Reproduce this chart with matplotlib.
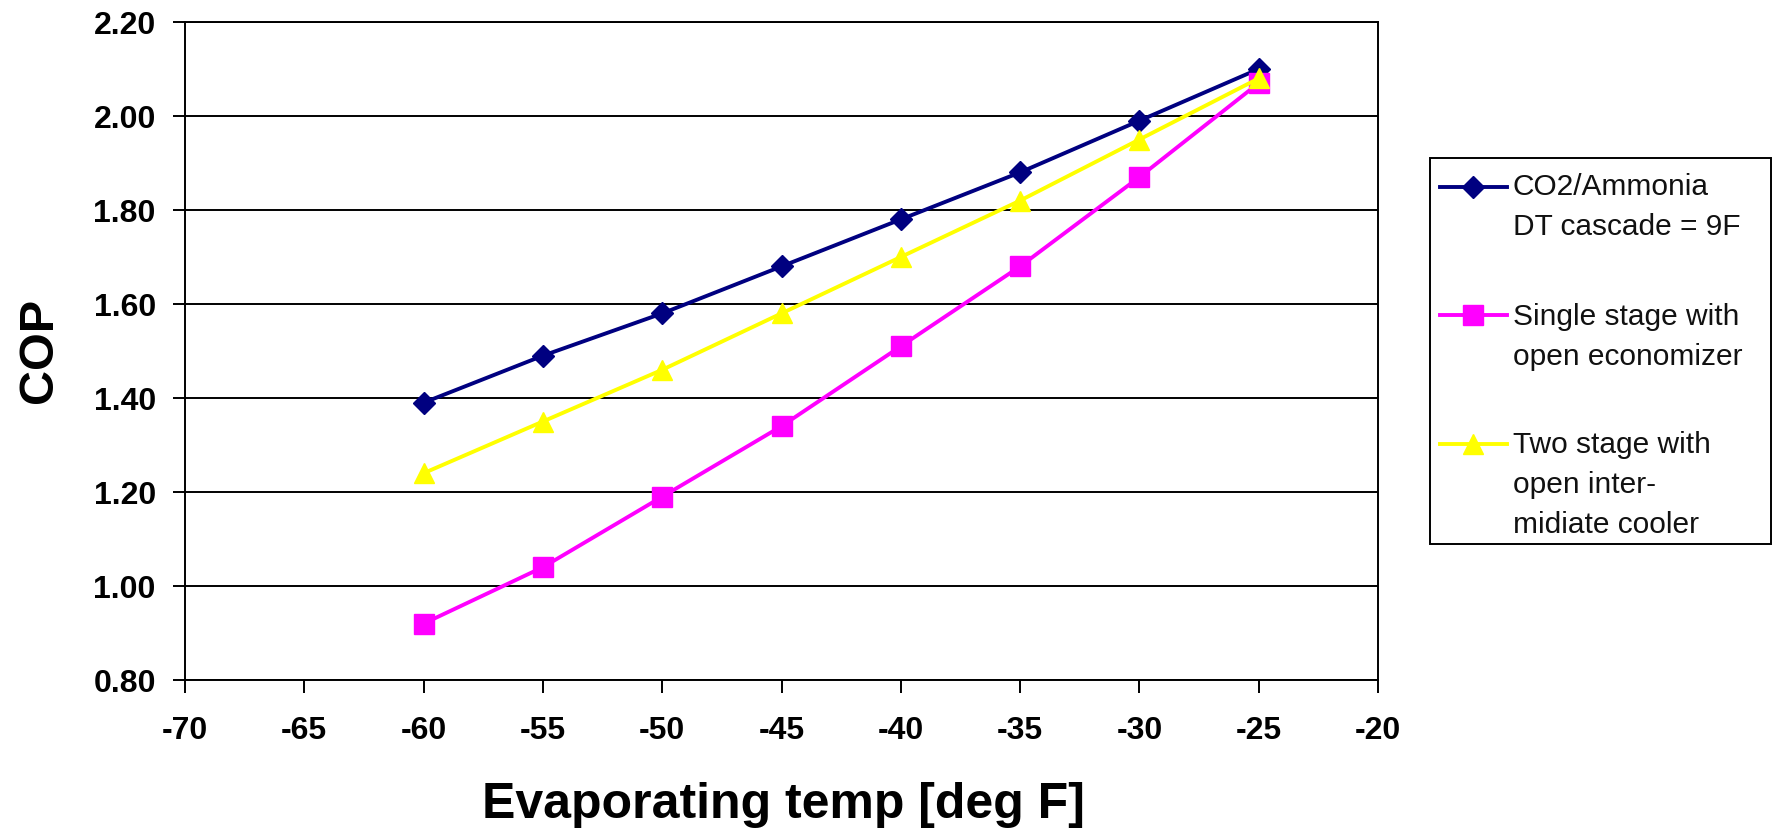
import matplotlib
matplotlib.use("Agg")
import matplotlib.pyplot as plt
from matplotlib.lines import Line2D
from matplotlib.patches import Rectangle

plt.rcParams['font.family'] = ['Liberation Sans', 'DejaVu Sans']

temps = [-60, -55, -50, -45, -40, -35, -30, -25]
cop_cascade = [1.39, 1.49, 1.58, 1.68, 1.78, 1.88, 1.99, 2.10]
cop_single = [0.92, 1.04, 1.19, 1.34, 1.51, 1.68, 1.87, 2.07]
cop_two = [1.24, 1.35, 1.46, 1.58, 1.70, 1.82, 1.95, 2.08]

labels = ["CO2/Ammonia\nDT cascade = 9F",
          "Single stage with\nopen economizer",
          "Two stage with\nopen inter-\nmidiate cooler"]
colors = ["#000080", "#FF00FF", "#FFFF00"]
markers = ["D", "s", "^"]
msizes = [11, 14, 15]

xticks = list(range(-70, -15, 5))
yticks = [0.80, 1.00, 1.20, 1.40, 1.60, 1.80, 2.00, 2.20]

W, H = 1773, 830
fig = plt.figure(figsize=(W / 100, H / 100), dpi=100)
ax = fig.add_axes([185 / W, 1 - 680 / H, (1378 - 185) / W, (680 - 22) / H])

series = [cop_cascade, cop_single, cop_two]
for ys, c, m, ms in zip(series, colors, markers, msizes):
    ax.plot(temps, ys, color=c, marker=m, markersize=ms, linewidth=2.8,
            markeredgecolor=c, markerfacecolor=c, zorder=3, clip_on=False)

ax.set_xlim(-70, -20)
ax.set_ylim(0.80, 2.20)
ax.set_xticks(xticks)
ax.set_xticklabels([str(t) for t in xticks])
ax.set_yticks(yticks)
ax.set_yticklabels([f"{v:.2f}" for v in yticks])
ax.yaxis.grid(True, color="black", linewidth=1.4)
ax.set_axisbelow(True)
for s in ax.spines.values():
    s.set_color("black")
    s.set_linewidth(1.4)
ax.tick_params(axis='both', direction='out', length=9, width=1.4, color='black',
               labelsize=23)
ax.tick_params(axis='y', pad=12)
ax.tick_params(axis='x', pad=17)
for lab in ax.get_xticklabels() + ax.get_yticklabels():
    lab.set_fontweight('bold')

fig.text(40 / W, 1 - 350 / H, "COP", rotation=90, fontsize=35, fontweight='bold',
         ha='center', va='center')
fig.text(783 / W, 1 - 805 / H, "Evaporating temp [deg F]", fontsize=36,
         fontweight='bold', ha='center', va='center')

# Legend drawn manually
box = Rectangle((1430 / W, 1 - 544 / H), (1771 - 1430) / W, (544 - 158) / H,
                transform=fig.transFigure, facecolor='white', edgecolor='black',
                linewidth=1.4)
fig.patches.append(box)
marker_y = [187, 315, 444]
first_baseline = [195, 325, 453]
line_gap = 40
for lab, c, m, ms, my, by in zip(labels, colors, markers, msizes, marker_y, first_baseline):
    fig.lines.append(Line2D([1440 / W, 1507 / W], [1 - my / H, 1 - my / H],
                            transform=fig.transFigure, color=c, linewidth=2.8))
    fig.lines.append(Line2D([1473 / W], [1 - my / H], transform=fig.transFigure,
                            color=c, marker=m, markersize=ms, markeredgecolor=c,
                            markerfacecolor=c, linestyle='none'))
    for i, line in enumerate(lab.split("\n")):
        fig.text(1513 / W, 1 - (by + i * line_gap) / H, line, fontsize=21.5,
                 ha='left', va='baseline', color='#111111')

fig.savefig("out.png", dpi=100)
